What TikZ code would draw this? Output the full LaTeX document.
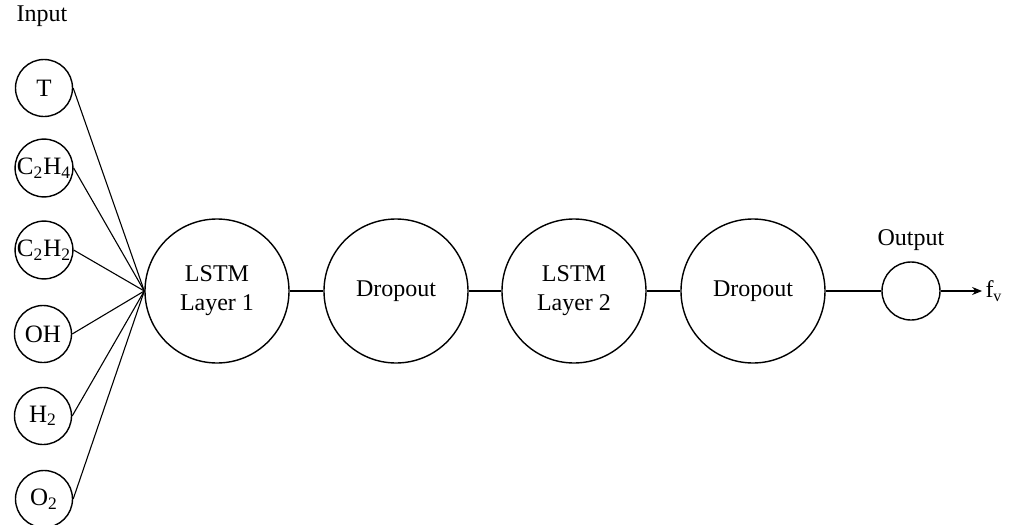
\documentclass[tikz,border=0pt]{standalone}
\usepackage{fontspec}
\setmainfont{Liberation Serif}
\usepackage{tikz}
\usetikzlibrary{arrows.meta, positioning}
\tikzset{
    % circles of the network, one size per kind
    bigunit/.style = {circle, draw, line width=0.7pt, minimum size=72pt, inner sep=0pt, align=center, font=\fontsize{12}{14.5}\selectfont},
    inunit/.style = {circle, draw, line width=0.7pt, minimum size=28.5pt, inner sep=0pt, font=\fontsize{12.5}{14.5}\selectfont},
    outunit/.style = {circle, draw, line width=0.7pt, minimum size=29pt, inner sep=0pt},
    label/.style = {font=\fontsize{12}{14.5}\selectfont},
    link/.style = {line width=0.55pt},
    arrow/.style = {line width=0.55pt, -{Stealth[length=5pt, width=4pt]}}
}

\begin{document}
\begin{tikzpicture}[x=0.5pt, y=-0.5pt]
\useasboundingbox (0,0) rectangle (1014,525);

\node[label] (input) at (42,16) {Input};
\node[inunit] (t) at (44,88) {T};
\node[inunit] (cfour) at (44,168) {C\textsubscript{2}H\textsubscript{4}};
\node[inunit] (ctwo) at (44,250) {C\textsubscript{2}H\textsubscript{2}};
\node[inunit] (oh) at (43,334) {OH};
\node[inunit] (htwo) at (43,416) {H\textsubscript{2}};
\node[inunit] (otwo) at (44,499) {O\textsubscript{2}};

\node[bigunit] (lstma) at (217,291) {LSTM\\Layer 1};
\node[bigunit] (dropa) at (396,291) {Dropout};
\node[bigunit] (lstmb) at (574,291) {LSTM\\Layer 2};
\node[bigunit] (dropb) at (753,291) {Dropout};
\node[outunit] (out) at (911,291) {};
\node[label] (outlabel) at (911,240) {Output};
\node[label, inner sep=1.5pt] (fv) at (994,291) {f\textsubscript{v}};

\draw[link] (t.east) -- (lstma.west);
\draw[link] (cfour.east) -- (lstma.west);
\draw[link] (ctwo.east) -- (lstma.west);
\draw[link] (oh.east) -- (lstma.west);
\draw[link] (htwo.east) -- (lstma.west);
\draw[link] (otwo.east) -- (lstma.west);

\draw[link] (lstma) -- (dropa);
\draw[link] (dropa) -- (lstmb);
\draw[link] (lstmb) -- (dropb);
\draw[link] (dropb) -- (out);
\draw[arrow] (out) -- (fv.west |- out.east);

\end{tikzpicture}
\end{document}
